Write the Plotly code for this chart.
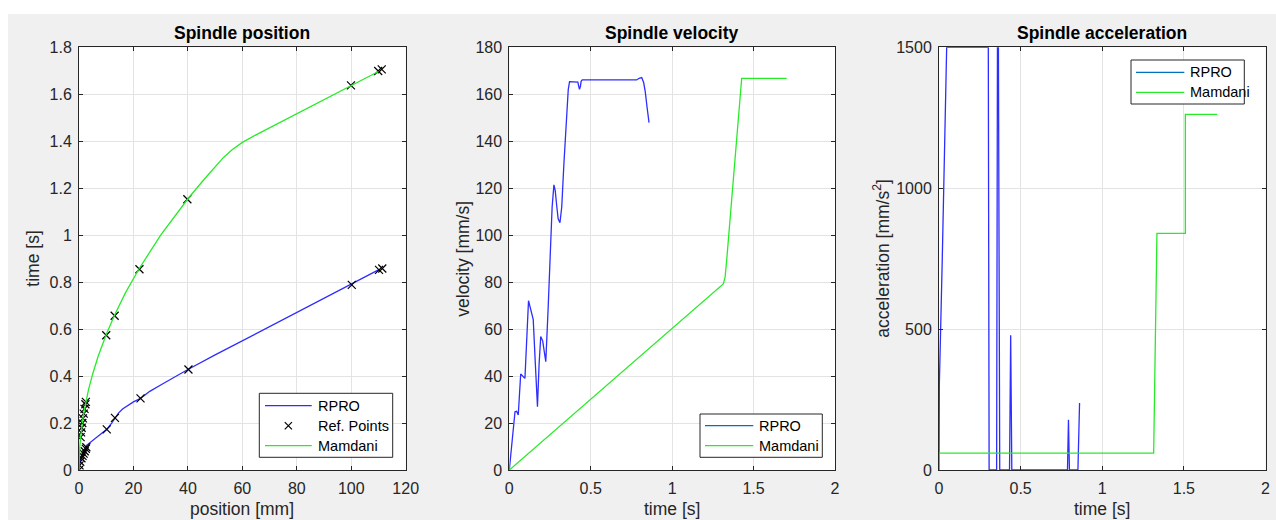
import plotly.graph_objects as go

# ---------------- data ----------------
# Spindle position (x = position [mm], y = time [s])
rpro_pos = [0, 0.2, 0.45, 0.9, 1.3, 1.7, 2.1, 2.5, 2.8, 4.5, 7.0, 10.2, 12.0, 13.2, 14.5, 16.0, 18.0,
            20.0, 22.6, 26, 30, 35, 40, 50, 60, 70, 80, 90, 100, 110]
rpro_time = [0, 0.02, 0.035, 0.05, 0.06, 0.07, 0.08, 0.09, 0.105, 0.12, 0.145, 0.173, 0.2, 0.222, 0.242,
             0.26, 0.276, 0.29, 0.305, 0.335, 0.362, 0.396, 0.428, 0.49, 0.55, 0.61, 0.67, 0.73, 0.79, 0.852]

mam_pos = [0, 0.1, 0.3, 0.6, 1.0, 1.5, 2.0, 2.5, 3.5, 5.0, 7.0, 10.0, 13.0, 17.0, 22.0, 30.0, 40.0,
           46.0, 50.0, 53.0, 56.0, 60.0, 65.0, 70.0, 80.0, 90.0, 100.0, 110.0]
mam_time = [0, 0.06, 0.1, 0.14, 0.183, 0.224, 0.258, 0.289, 0.342, 0.408, 0.483, 0.577, 0.658, 0.753,
            0.856, 1.0, 1.155, 1.238, 1.29, 1.33, 1.362, 1.395, 1.427, 1.457, 1.517, 1.577, 1.637, 1.697]

ref_pos_rpro = [0, 0.2, 0.45, 0.9, 1.3, 1.7, 2.1, 2.5, 2.7, 10.2, 13.2, 22.6, 40.2, 100.2, 110.2, 111.4]
ref_time_rpro = [0, 0.02, 0.035, 0.05, 0.06, 0.07, 0.08, 0.09, 0.097, 0.173, 0.222, 0.305, 0.428,
                 0.788, 0.852, 0.858]
ref_pos_mam = [0.59, 0.77, 0.97, 1.2, 1.45, 1.73, 2.03, 2.35, 2.52, 10.0, 13.1, 22.2, 39.8, 99.9, 109.9, 111.2]
ref_time_mam = [0.14, 0.16, 0.18, 0.2, 0.22, 0.24, 0.26, 0.28, 0.29, 0.574, 0.657, 0.855, 1.153,
                1.638, 1.699, 1.706]

# Spindle velocity
rpro_vt = [0, 0.035, 0.045, 0.055, 0.07, 0.083, 0.096, 0.118, 0.13, 0.147, 0.16, 0.173, 0.183, 0.193,
           0.205, 0.215, 0.224, 0.238, 0.252, 0.263, 0.274, 0.282, 0.292, 0.3, 0.311, 0.322, 0.335,
           0.35, 0.362, 0.37, 0.4, 0.421, 0.426, 0.431, 0.437, 0.441, 0.448, 0.782, 0.797, 0.813,
           0.825, 0.835, 0.845, 0.858]
rpro_v = [0, 24.8, 25, 23.4, 40.9, 40, 39, 72.1, 69, 64, 45, 27, 45, 56.8, 55, 51, 46.1, 68, 89.4,
          112, 121.4, 119, 112, 107, 105.3, 112, 130, 150, 162, 165.4, 165.4, 165.2, 163.5, 162.1,
          163.5, 165.5, 166.1, 166.1, 166.8, 167.1, 165, 161, 155, 147.9]
mam_vt = [0, 1.314, 1.325, 1.335, 1.427, 1.703]
mam_v = [0, 79.2, 82, 89.4, 166.8, 166.8]

# Spindle acceleration
rpro_at = [0, 0.002, 0.02, 0.03, 0.047, 0.302, 0.307, 0.353, 0.358, 0.364, 0.372, 0.432, 0.439,
           0.446, 0.787, 0.793, 0.799, 0.851, 0.861]
rpro_a = [0, 300, 750, 1000, 1500, 1500, 0, 0, 1500, 1500, 0, 0, 478, 0, 0, 178, 0, 0, 238]
mam_at = [0, 0, 1.315, 1.335, 1.509, 1.509, 1.704]
mam_a = [0, 60, 60, 840, 840, 1262, 1262]

titles = ["Spindle position", "Spindle velocity", "Spindle acceleration"]
xtitles = ["position [mm]", "time [s]", "time [s]"]
ytitles = ["time [s]", "velocity [mm/s]", "acceleration [mm/s<sup>2</sup>]"]

# ---------------- styling ----------------
W, H = 1276, 520
FONT = "Arial, Liberation Sans, Helvetica, sans-serif"
BLUE = "rgb(45,45,255)"
GREEN = "rgb(40,235,40)"
LEG_BLUE = "rgb(0,114,189)"
AX = "#262626"
GRID = "#e3e3e3"
LW = 1.3


def rx(p):
    return p / W


def ry(p):
    return 1 - p / H


dom_y = [ry(470), ry(47.3)]
doms_x = [[rx(79), rx(405.7)], [rx(509.3), rx(835)], [rx(939), rx(1265.5)]]

fig = go.Figure()

# position plot
fig.add_trace(go.Scatter(x=rpro_pos, y=rpro_time, mode="lines", name="RPRO", showlegend=False,
                         line=dict(color=BLUE, width=LW), xaxis="x", yaxis="y"))
fig.add_trace(go.Scatter(x=ref_pos_rpro + ref_pos_mam, y=ref_time_rpro + ref_time_mam, mode="markers",
                         name="Ref. Points", showlegend=False,
                         marker=dict(symbol="x-thin", size=8, color="black",
                                     line=dict(color="black", width=1.2)),
                         xaxis="x", yaxis="y"))
fig.add_trace(go.Scatter(x=mam_pos, y=mam_time, mode="lines", name="Mamdani", showlegend=False,
                         line=dict(color=GREEN, width=LW), xaxis="x", yaxis="y"))
# velocity plot
fig.add_trace(go.Scatter(x=rpro_vt, y=rpro_v, mode="lines", name="RPRO", showlegend=False,
                         line=dict(color=BLUE, width=LW), xaxis="x2", yaxis="y2"))
fig.add_trace(go.Scatter(x=mam_vt, y=mam_v, mode="lines", name="Mamdani", showlegend=False,
                         line=dict(color=GREEN, width=LW), xaxis="x2", yaxis="y2"))
# acceleration plot
fig.add_trace(go.Scatter(x=rpro_at, y=rpro_a, mode="lines", name="RPRO", showlegend=False,
                         line=dict(color=BLUE, width=LW), xaxis="x3", yaxis="y3"))
fig.add_trace(go.Scatter(x=mam_at, y=mam_a, mode="lines", name="Mamdani", showlegend=False,
                         line=dict(color=GREEN, width=LW), xaxis="x3", yaxis="y3"))


def axis_common(**kw):
    d = dict(showline=True, linecolor=AX, linewidth=1, mirror="ticks", ticks="inside", ticklen=4,
             tickcolor=AX, tickwidth=1, showgrid=True, gridcolor=GRID, gridwidth=1, zeroline=False,
             tickfont=dict(family=FONT, size=16, color=AX), fixedrange=True, automargin=False)
    d.update(kw)
    return d


layout_axes = dict(
    xaxis=axis_common(domain=doms_x[0], range=[0, 120], tickvals=[0, 20, 40, 60, 80, 100, 120],
                      anchor="y", ticklabelstandoff=4),
    yaxis=axis_common(domain=dom_y, range=[0, 1.8], tickvals=[0, 0.2, 0.4, 0.6, 0.8, 1, 1.2, 1.4, 1.6, 1.8],
                      ticktext=["0", "0.2", "0.4", "0.6", "0.8", "1", "1.2", "1.4", "1.6", "1.8"],
                      anchor="x", ticklabelstandoff=3),
    xaxis2=axis_common(domain=doms_x[1], range=[0, 2], tickvals=[0, 0.5, 1, 1.5, 2],
                       ticktext=["0", "0.5", "1", "1.5", "2"], anchor="y2", ticklabelstandoff=4),
    yaxis2=axis_common(domain=dom_y, range=[0, 180], tickvals=list(range(0, 181, 20)),
                       anchor="x2", ticklabelstandoff=3),
    xaxis3=axis_common(domain=doms_x[2], range=[0, 2], tickvals=[0, 0.5, 1, 1.5, 2],
                       ticktext=["0", "0.5", "1", "1.5", "2"], anchor="y3", ticklabelstandoff=4),
    yaxis3=axis_common(domain=dom_y, range=[0, 1500], tickvals=[0, 500, 1000, 1500],
                       anchor="x3", ticklabelstandoff=3),
)

annotations = []
shapes = [
    dict(type="rect", xref="paper", yref="paper", x0=0, x1=1, y0=ry(14), y1=1,
         fillcolor="white", line=dict(width=0), layer="below"),
    dict(type="rect", xref="paper", yref="paper", x0=0, x1=rx(8), y0=0, y1=1,
         fillcolor="white", line=dict(width=0), layer="below"),
]

ytitle_x = [33, 463, 881]
for i in range(3):
    cx = (doms_x[i][0] + doms_x[i][1]) / 2
    annotations.append(dict(text="<b>" + titles[i] + "</b>", x=cx, y=ry(33), xref="paper", yref="paper",
                            showarrow=False, xanchor="center", yanchor="middle",
                            font=dict(family=FONT, size=17.5, color="black")))
    annotations.append(dict(text=xtitles[i], x=cx, y=ry(508.5), xref="paper", yref="paper",
                            showarrow=False, xanchor="center", yanchor="middle",
                            font=dict(family=FONT, size=17.5, color=AX)))
    annotations.append(dict(text=ytitles[i], x=rx(ytitle_x[i]), y=(dom_y[0] + dom_y[1]) / 2,
                            xref="paper", yref="paper", showarrow=False, textangle=-90,
                            xanchor="center", yanchor="middle",
                            font=dict(family=FONT, size=17.5, color=AX)))


# ---- legends (box, samples, labels) placed in picture pixels ----
def add_legend(box, entries):
    x0, x1, y0, y1 = box
    shapes.append(dict(type="rect", xref="paper", yref="paper", x0=rx(x0), x1=rx(x1), y0=ry(y1), y1=ry(y0),
                       fillcolor="white", line=dict(color=AX, width=1), layer="above"))
    for kind, color, label, lx0, lx1, ly, tx in entries:
        if kind == "line":
            shapes.append(dict(type="line", xref="paper", yref="paper", x0=rx(lx0), x1=rx(lx1),
                               y0=ry(ly), y1=ry(ly), line=dict(color=color, width=LW), layer="above"))
        else:
            cxm = (lx0 + lx1) / 2
            d = 3.6
            path = "M {a},{b} L {c},{e} M {a},{e} L {c},{b}".format(
                a=rx(cxm - d), c=rx(cxm + d), b=ry(ly - d), e=ry(ly + d))
            shapes.append(dict(type="path", xref="paper", yref="paper", path=path,
                               line=dict(color=color, width=1.2), layer="above"))
        annotations.append(dict(text=label, x=rx(tx), y=ry(ly), xref="paper", yref="paper",
                                showarrow=False, xanchor="left", yanchor="middle",
                                font=dict(family=FONT, size=14.5, color="black")))


add_legend((259.3, 392.7, 393.3, 457.3), [
    ("line", BLUE, "RPRO", 265, 311.7, 405.7, 315.5),
    ("marker", "black", "Ref. Points", 265, 311.7, 425.7, 315.5),
    ("line", GREEN, "Mamdani", 265, 311.7, 445.7, 315.5),
])
add_legend((700, 822.3, 414, 457.3), [
    ("line", LEG_BLUE, "RPRO", 705, 753.3, 425.7, 756.5),
    ("line", GREEN, "Mamdani", 705, 753.3, 445.7, 756.5),
])
add_legend((1131, 1244.3, 60, 104), [
    ("line", LEG_BLUE, "RPRO", 1136, 1184.3, 72.3, 1187.5),
    ("line", GREEN, "Mamdani", 1136, 1184.3, 92.3, 1187.5),
])

fig.update_layout(
    width=W, height=H, margin=dict(l=0, r=0, t=0, b=0),
    paper_bgcolor="#f0f0f0", plot_bgcolor="white",
    showlegend=False,
    annotations=annotations,
    shapes=shapes,
    **layout_axes,
)

fig.write_html("out.html")
